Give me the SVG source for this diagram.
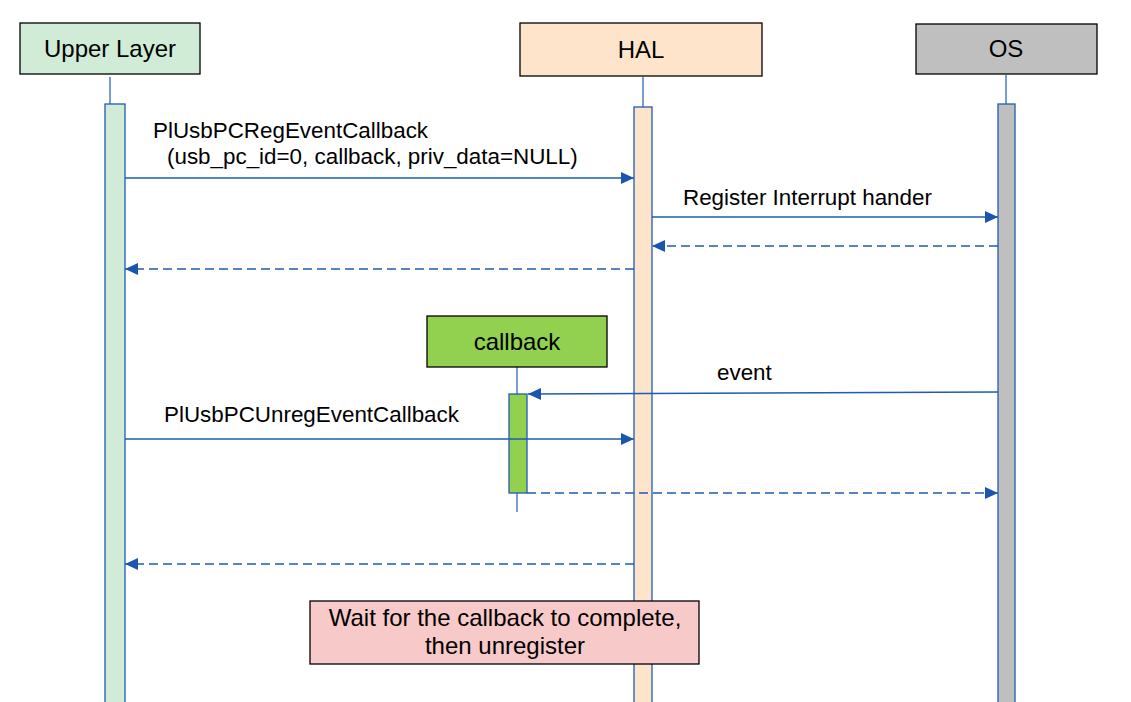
<svg xmlns="http://www.w3.org/2000/svg" width="1131" height="702" viewBox="0 0 1131 702">
<style>
.t{font-family:"Liberation Sans",Arial,sans-serif;font-size:22.4px;fill:#000}
.h{font-family:"Liberation Sans",Arial,sans-serif;font-size:24px;fill:#000;text-anchor:middle}
.box{stroke:#000;stroke-width:1.3}
.life{stroke:#1f5bb5;stroke-width:1.2;fill:none}
.bar{stroke:#1f5bb5;stroke-width:1.3}
.msg{stroke:#1f5bb5;stroke-width:1.3;fill:none}
.ret{stroke:#1f5bb5;stroke-width:1.3;fill:none;stroke-dasharray:9 5}
</style>
<defs>
<marker id="ah" viewBox="0 0 13 12" refX="13" refY="6" markerWidth="13" markerHeight="12" markerUnits="userSpaceOnUse" orient="auto">
<path d="M0,0 L13,6 L0,12 Z" fill="#1a55b0"/>
</marker>
</defs>
<rect width="1131" height="702" fill="#fff"/>
<g id="upper">
<line class="life" x1="110" y1="77" x2="110" y2="104"/>
<rect class="box" x="20" y="23" width="180" height="51" fill="#d0ecd6"/>
<text class="h" x="110" y="57">Upper Layer</text>
<rect class="bar" x="105" y="104" width="20" height="600" fill="#d0ecd6"/>
</g>
<g id="hal">
<line class="life" x1="643" y1="77" x2="643" y2="107"/>
<rect class="box" x="520" y="23" width="242" height="53" fill="#fde4cb"/>
<text class="h" x="641" y="58">HAL</text>
<rect class="bar" x="634" y="107" width="18" height="597" fill="#fde4cb"/>
</g>
<g id="os">
<line class="life" x1="1006" y1="75" x2="1006" y2="104"/>
<rect class="box" x="916" y="24" width="181" height="50" fill="#bfbfbf"/>
<text class="h" x="1006" y="57">OS</text>
<rect class="bar" x="998" y="104" width="17" height="600" fill="#bfbfbf"/>
</g>
<g id="callback">
<line class="life" x1="517" y1="367" x2="517" y2="512"/>
<rect class="box" x="427" y="316" width="180" height="51" fill="#92d050"/>
<text class="h" x="517" y="350">callback</text>
<rect class="bar" x="509" y="394" width="18" height="99" fill="#92d050"/>
</g>
<g id="note">
<rect class="box" x="310" y="601" width="389" height="63" fill="#f8c9c9"/>
<text class="h" x="505" y="626">Wait for the callback to complete,</text>
<text class="h" x="505" y="654">then unregister</text>
</g>
<g id="connectors">
<line class="msg" x1="125" y1="178" x2="634" y2="178" marker-end="url(#ah)"/>
<text class="t" x="153" y="138">PlUsbPCRegEventCallback</text>
<text class="t" x="167" y="164">(usb_pc_id=0, callback, priv_data=NULL)</text>
<line class="msg" x1="652" y1="217" x2="998" y2="217" marker-end="url(#ah)"/>
<text class="t" x="683" y="205">Register Interrupt hander</text>
<line class="ret" x1="998" y1="246" x2="652" y2="246" marker-end="url(#ah)"/>
<line class="ret" x1="634" y1="269" x2="125" y2="269" marker-end="url(#ah)"/>
<line class="msg" x1="998" y1="392" x2="528" y2="394" marker-end="url(#ah)"/>
<text class="t" x="717" y="380">event</text>
<line class="msg" x1="125" y1="439" x2="634" y2="439" marker-end="url(#ah)"/>
<text class="t" x="164" y="422">PlUsbPCUnregEventCallback</text>
<line class="ret" x1="527" y1="493" x2="998" y2="493" marker-end="url(#ah)"/>
<line class="ret" x1="634" y1="564" x2="125" y2="564" marker-end="url(#ah)"/>
</g>
</svg>
